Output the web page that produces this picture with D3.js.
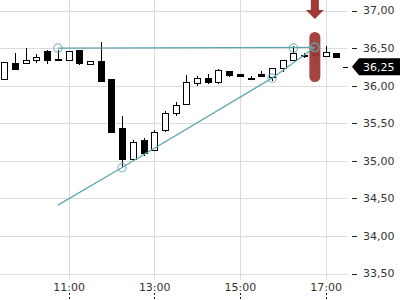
<!DOCTYPE html>
<meta charset="utf-8">
<head>
    <script src="https://d3js.org/d3.v7.min.js"></script>
    <style>
        body { margin: 0; background: #fff; }
        text { font-family: "DejaVu Sans", sans-serif; font-size: 11px; fill: #333; }
        .grid { stroke: #dcdcdc; stroke-width: 1; shape-rendering: crispEdges; }
        .wick { stroke: #000; stroke-width: 1; shape-rendering: crispEdges; }
        .trend { stroke: #5fa5ad; stroke-width: 1.2; fill: none; }
        .anchor { stroke: #5fa5ad; stroke-opacity: 0.75; stroke-width: 1.2; fill: none; }
    </style>
</head>
<body>
<svg id="chart" width="400" height="300"></svg>
<script>

    // 15 minute candles
    var times = ["09:30", "09:45", "10:00", "10:15", "10:30", "10:45", "11:00", "11:15",
        "11:30", "11:45", "12:00", "12:15", "12:30", "12:45", "13:00", "13:15",
        "13:30", "13:45", "14:00", "14:15", "14:30", "14:45", "15:00", "15:15",
        "15:30", "15:45", "16:00", "16:15", "16:30", "16:45", "17:00", "17:15"];
    var open = [36.09, 36.30, 36.30, 36.34, 36.46, 36.35, 36.34, 36.47,
        36.29, 36.33, 36.09, 35.43, 35.03, 35.27, 35.14, 35.40,
        35.63, 35.76, 36.03, 36.10, 36.05, 36.19, 36.16, 36.10,
        36.15, 36.11, 36.23, 36.35, 36.41, 36.44, 36.40, 36.43];
    var high = [36.32, 36.43, 36.50, 36.42, 36.48, 36.47, 36.46, 36.47,
        36.33, 36.58, 36.09, 35.60, 35.28, 35.30, 35.41, 35.66,
        35.78, 36.14, 36.13, 36.15, 36.22, 36.19, 36.16, 36.13,
        36.20, 36.23, 36.34, 36.53, 36.43, 36.47, 36.53, 36.43];
    var low = [36.08, 36.21, 36.30, 36.30, 36.29, 36.35, 36.34, 36.27,
        36.28, 36.05, 35.37, 34.92, 35.03, 35.06, 35.13, 35.38,
        35.60, 35.76, 36.00, 36.02, 36.02, 36.11, 36.13, 36.08,
        36.12, 36.06, 36.18, 36.35, 36.37, 36.36, 36.40, 36.38];
    var close = [36.31, 36.22, 36.34, 36.38, 36.34, 36.35, 36.46, 36.30,
        36.33, 36.06, 35.38, 35.02, 35.25, 35.10, 35.38, 35.63,
        35.74, 36.05, 36.10, 36.05, 36.21, 36.14, 36.13, 36.10,
        36.12, 36.23, 36.34, 36.44, 36.41, 36.41, 36.45, 36.38];

    // drawn trend lines
    var topLineTimes = ["10:45", "16:15", "16:45"];
    var topLinePrices = [36.50, 36.50, 36.51];
    var riseLineTimes = ["10:45", "12:15", "15:45", "16:45"];
    var riseLinePrices = [34.41, 34.91, 36.10, 36.51];

    var markerTime = "16:45";
    var lastPrice = 36.25;

    var yTicks = [33.5, 34, 34.5, 35, 35.5, 36, 36.5, 37];
    var xTicks = ["11:00", "13:00", "15:00", "17:00"];

    var parse = d3.timeParse("%H:%M");
    var fmt = d3.formatLocale({decimal: ",", thousands: ".", grouping: [3], currency: ["", "€"]}).format(".2f");

    var svg = d3.select("#chart"),
        plotW = 347,
        plotH = 280;

    var x = d3.scaleTime()
        .domain([parse("09:22"), parse("17:30")])
        .range([-1.4, plotW]);

    var y = d3.scaleLinear()
        .domain([33.5, 37])
        .range([273.5, 10.5]);

    // grid
    svg.append("g").selectAll("line")
        .data(yTicks)
        .enter().append("line")
        .attr("class", "grid")
        .attr("x1", 0).attr("x2", plotW)
        .attr("y1", function (d) { return Math.round(y(d)) + 0.5; })
        .attr("y2", function (d) { return Math.round(y(d)) + 0.5; });

    svg.append("g").selectAll("line")
        .data(xTicks)
        .enter().append("line")
        .attr("class", "grid")
        .attr("x1", function (d) { return Math.round(x(parse(d))) + 0.5; })
        .attr("x2", function (d) { return Math.round(x(parse(d))) + 0.5; })
        .attr("y1", 0).attr("y2", plotH);

    // right axis
    var yAxis = svg.append("g");
    yAxis.selectAll("line")
        .data(yTicks)
        .enter().append("line")
        .attr("x1", 352).attr("x2", 357)
        .attr("y1", function (d) { return Math.round(y(d)) + 0.5; })
        .attr("y2", function (d) { return Math.round(y(d)) + 0.5; })
        .style("stroke", "#222");
    yAxis.selectAll("text")
        .data(yTicks)
        .enter().append("text")
        .attr("x", 363)
        .attr("y", function (d) { return y(d); })
        .attr("dy", "0.36em")
        .text(fmt);

    // bottom axis
    var xAxis = svg.append("g");
    xAxis.selectAll("text")
        .data(xTicks)
        .enter().append("text")
        .attr("x", function (d) { return x(parse(d)) + 0.5; })
        .attr("y", 291)
        .attr("text-anchor", "middle")
        .text(function (d) { return d; });
    xAxis.selectAll("line")
        .data(xTicks)
        .enter().append("line")
        .attr("x1", function (d) { return Math.round(x(parse(d))) + 0.5; })
        .attr("x2", function (d) { return Math.round(x(parse(d))) + 0.5; })
        .attr("y1", 293).attr("y2", 299)
        .style("stroke", "#222")
        .style("stroke-dasharray", "2,2");

    // candles
    var candles = times.map(function (t, i) {
        return {t: parse(t), o: open[i], h: high[i], l: low[i], c: close[i]};
    });

    var bodyW = 6;
    var cg = svg.append("g").selectAll("g")
        .data(candles)
        .enter().append("g");

    cg.append("line")
        .attr("class", "wick")
        .attr("x1", function (d) { return Math.round(x(d.t)) + 0.5; })
        .attr("x2", function (d) { return Math.round(x(d.t)) + 0.5; })
        .attr("y1", function (d) { return y(d.h); })
        .attr("y2", function (d) { return y(d.l); });

    cg.append("rect")
        .attr("x", function (d) { return Math.round(x(d.t)) - bodyW / 2 + 0.5; })
        .attr("y", function (d) { return Math.round(y(Math.max(d.o, d.c))) + 0.5; })
        .attr("width", bodyW)
        .attr("height", function (d) { return Math.max(1, Math.round(Math.abs(y(d.o) - y(d.c)))); })
        .style("fill", function (d) { return d.c >= d.o ? "#fff" : "#000"; })
        .style("stroke", "#000")
        .style("stroke-width", 1);

    // red highlight on the selected candle
    var mx = x(parse(markerTime));
    svg.append("rect")
        .attr("x", mx - 5.5)
        .attr("y", 32)
        .attr("width", 11)
        .attr("height", 50)
        .attr("rx", 5.5)
        .style("fill", "#9f3a34")
        .style("fill-opacity", 0.95);
    svg.append("path")
        .attr("d", "M" + (mx - 4) + ",0 h8 v10 h5 l-9,9 l-9,-9 h5 z")
        .style("fill", "#9f3a34");

    // trend lines
    var line = d3.line()
        .x(function (d) { return x(parse(d[0])); })
        .y(function (d) { return y(d[1]); });

    var topPts = topLineTimes.map(function (t, i) { return [t, topLinePrices[i]]; });
    var risePts = riseLineTimes.map(function (t, i) { return [t, riseLinePrices[i]]; });

    svg.append("path").attr("class", "trend").attr("d", line([topPts[0], topPts[topPts.length - 1]]));
    svg.append("path").attr("class", "trend").attr("d", line(risePts));

    svg.append("g").selectAll("circle")
        .data(topPts.concat(risePts.slice(1)))
        .enter().append("circle")
        .attr("class", "anchor")
        .attr("cx", function (d) { return x(parse(d[0])); })
        .attr("cy", function (d) { return y(d[1]); })
        .attr("r", 4.2);

    // last price label
    var ly = y(lastPrice);
    svg.append("line")
        .attr("x1", 343).attr("x2", 348)
        .attr("y1", Math.round(ly) + 0.5).attr("y2", Math.round(ly) + 0.5)
        .style("stroke", "#000");
    svg.append("path")
        .attr("d", "M352," + ly + " L359," + (ly - 8.5) + " H400 V" + (ly + 8.5) + " H359 Z")
        .style("fill", "#000");
    svg.append("text")
        .attr("x", 363)
        .attr("y", ly)
        .attr("dy", "0.36em")
        .style("fill", "#fff")
        .text(fmt(lastPrice));

</script>
</body>
